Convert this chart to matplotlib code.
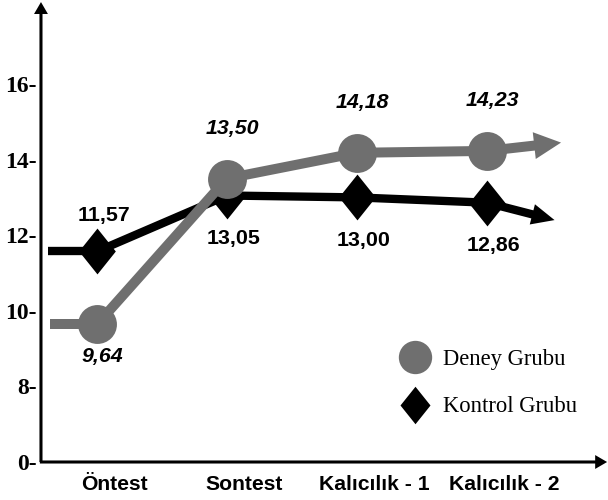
import numpy as np
import matplotlib
matplotlib.use('Agg')
import matplotlib.pyplot as plt
from matplotlib.path import Path
from matplotlib.patches import FancyArrowPatch, ArrowStyle
from matplotlib.lines import Line2D
from matplotlib.ticker import NullLocator
import matplotlib.transforms as mtransforms

# ---- data ----
categories = ['Öntest', 'Sontest', 'Kalıcılık - 1', 'Kalıcılık - 2']
deney = [9.64, 13.50, 14.18, 14.23]
kontrol = [11.57, 13.05, 13.00, 12.86]
y_ticks = [0, 8, 10, 12, 14, 16]
y_tick_labels = ['0-', '8-', '10-', '12-', '14-', '16-']
legend_labels = ['Deney Grubu', 'Kontrol Grubu']
# end points of the trend arrows drawn past the last session
deney_trend_end = 14.45
kontrol_trend_end = 12.40

GREY = '#6f6f6f'
BLACK = '#000000'


def fmt(v):
    return f"{v:.2f}".replace('.', ',')


# broken y axis: 0 -> 8 compressed into one tick step
def fwd(v):
    v = np.asarray(v, dtype=float)
    return np.where(v < 8, v / 8.0, (v - 6.0) / 2.0)


def inv(p):
    p = np.asarray(p, dtype=float)
    return np.where(p < 1, p * 8.0, p * 2.0 + 6.0)


diamond = Path([(0, 1), (0.8, 0), (0, -1), (-0.8, 0), (0, 1)],
               [Path.MOVETO, Path.LINETO, Path.LINETO, Path.LINETO, Path.CLOSEPOLY])

fig = plt.figure(figsize=(6.08, 5.0), dpi=100)
ax = fig.add_axes([0.0674, 0.076, 0.921, 0.9072])
ax.set_yscale('function', functions=(fwd, inv))
ax.set_ylim(0, 18)
ax.set_xlim(-0.431, 3.877)
for s in ax.spines.values():
    s.set_visible(False)

x = np.arange(len(categories))

# ---- Kontrol (black) ----
ax.plot([-0.377, x[0]], [kontrol[0], kontrol[0]], color=BLACK, lw=6, solid_capstyle='butt', zorder=2)
ax.plot(x, kontrol, color=BLACK, lw=6, zorder=2, solid_joinstyle='round')
ax.add_patch(FancyArrowPatch((x[-1], kontrol[-1]), (3.52, kontrol_trend_end),
                             arrowstyle=ArrowStyle('simple', head_length=16.5, head_width=15, tail_width=6),
                             mutation_scale=1, color=BLACK, lw=0, shrinkA=0, shrinkB=0, zorder=2))
ax.plot(x, kontrol, ls='none', marker=diamond, ms=33, color=BLACK, mew=0, zorder=3)

# ---- Deney (grey) ----
ax.plot([-0.36, x[0]], [deney[0], deney[0]], color=GREY, lw=7.2, solid_capstyle='butt', zorder=4)
ax.plot(x, deney, color=GREY, lw=7.2, zorder=4, solid_joinstyle='round')
ax.add_patch(FancyArrowPatch((x[-1], deney[-1]), (3.57, deney_trend_end),
                             arrowstyle=ArrowStyle('simple', head_length=19.4, head_width=19.4, tail_width=7.2),
                             mutation_scale=1, color=GREY, lw=0, shrinkA=0, shrinkB=0, zorder=4))
ax.plot(x, deney, ls='none', marker='o', ms=28, color=GREY, mew=0, zorder=5)

# ---- value labels ----
lab_font = dict(family='Liberation Sans', weight='bold', size=15.4)
for i, v in enumerate(deney):
    dy = -23 if i == 0 else 36
    ax.annotate(fmt(v), (x[i], v), xytext=(4, dy), textcoords='offset points',
                ha='center', va='center', style='italic', zorder=6, **lab_font)
for i, v in enumerate(kontrol):
    dy = 26 if i == 0 else -31
    ax.annotate(fmt(v), (x[i], v), xytext=(5, dy), textcoords='offset points',
                ha='center', va='center', zorder=6, **lab_font)

# ---- axes with arrows ----
ax.add_patch(FancyArrowPatch((0, 0), (0, 1.014), transform=ax.transAxes, clip_on=False,
                             arrowstyle=ArrowStyle('simple', head_length=8.6, head_width=10, tail_width=2.2),
                             mutation_scale=1, color=BLACK, lw=0, shrinkA=0, shrinkB=0, zorder=7))
ax.add_patch(FancyArrowPatch((-0.002, 0), (1.011, 0), transform=ax.transAxes, clip_on=False,
                             arrowstyle=ArrowStyle('simple', head_length=8.6, head_width=10, tail_width=2.2),
                             mutation_scale=1, color=BLACK, lw=0, shrinkA=0, shrinkB=0, zorder=7))

# ---- ticks ----
ax.set_yticks(y_ticks)
ax.set_yticklabels(y_tick_labels, fontfamily='Liberation Serif', fontweight='bold', fontsize=17)
ax.yaxis.set_minor_locator(NullLocator())
ax.tick_params(axis='y', length=0, pad=3)
ax.set_xticks(x)
ax.set_xticklabels(categories, fontfamily='Liberation Sans', fontweight='bold', fontsize=15.2)
ax.tick_params(axis='x', length=0, pad=9)
shift = mtransforms.ScaledTranslation(0.17, 0, fig.dpi_scale_trans)
for lbl in ax.get_xticklabels():
    lbl.set_transform(lbl.get_transform() + shift)

# ---- legend ----
handles = [Line2D([], [], ls='none', marker='o', ms=24, color=GREY, mew=0),
           Line2D([], [], ls='none', marker=diamond, ms=27, color=BLACK, mew=0)]
ax.legend(handles, legend_labels, loc='upper left', bbox_to_anchor=(398 / 608, 1 - 349 / 500),
          bbox_transform=fig.transFigure, frameon=False, borderpad=0, borderaxespad=0,
          handlelength=1.5, handletextpad=0.5, labelspacing=1.17,
          prop=dict(family='Liberation Serif', size=16.3))

fig.savefig('out.png', dpi=100)
